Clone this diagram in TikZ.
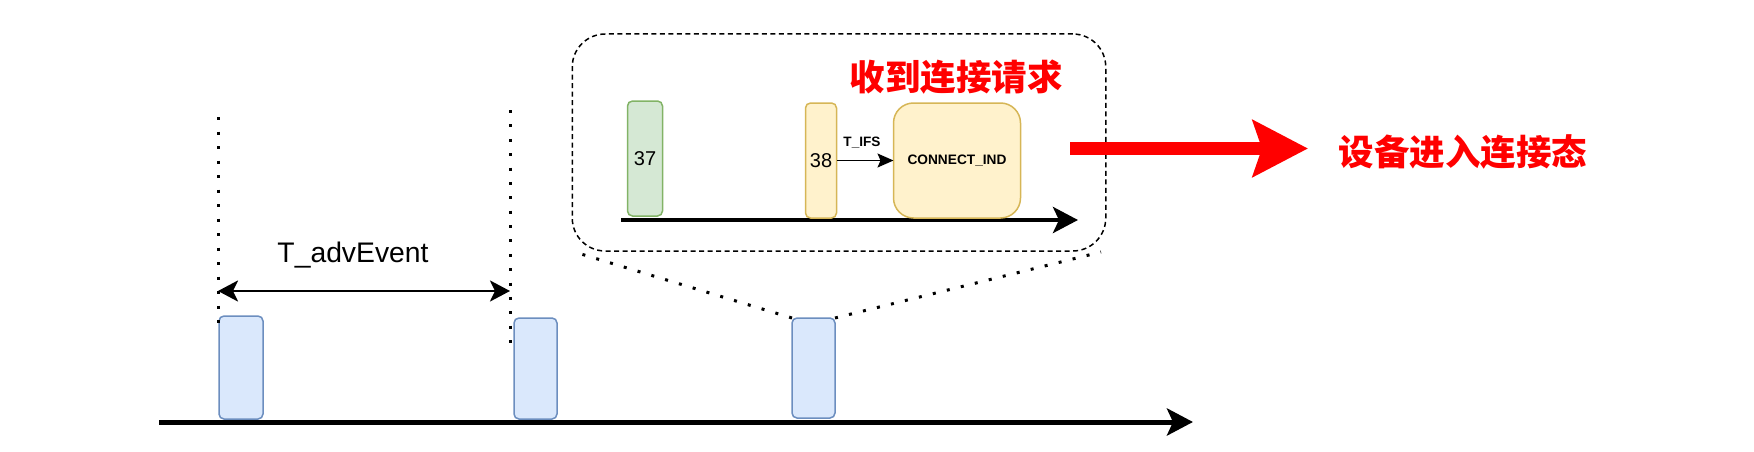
\documentclass[tikz,border=0pt]{standalone}
\usepackage{fontspec}
\setmainfont{Liberation Sans}
\newfontfamily\cjk{Noto Sans CJK SC}
\usetikzlibrary{arrows.meta}
\definecolor{bluefill}{HTML}{DAE8FC}
\definecolor{bluedraw}{HTML}{6C8EBF}
\definecolor{greenfill}{HTML}{D5E8D4}
\definecolor{greendraw}{HTML}{82B366}
\definecolor{yelfill}{HTML}{FFF2CC}
\definecolor{yeldraw}{HTML}{D6B656}
\definecolor{myred}{HTML}{FF0000}
\tikzset{
  pkt/.style={draw, line width=1.5pt, rounded corners=5pt, inner sep=0pt, outer sep=0pt},
  bluepkt/.style={pkt, fill=bluefill, draw=bluedraw},
  greenpkt/.style={pkt, fill=greenfill, draw=greendraw},
  yelpkt/.style={pkt, fill=yelfill, draw=yeldraw},
  axisline/.style={line width=5pt, -{Stealth[length=26pt, width=27pt, inset=6pt]}},
  dotline/.style={line width=3pt, dash pattern=on 3pt off 11.4pt},
  lbl/.style={inner sep=0pt, outer sep=0pt},
  redtxt/.style={lbl, text=myred, font=\cjk\bfseries\fontsize{35.5}{40}\selectfont},
}
\begin{document}
\begin{tikzpicture}[x=1pt,y=-1pt]
\useasboundingbox (0,0) rectangle (1754,452);

% dashed zoom box
\node[draw, dashed, dash pattern=on 5pt off 3.5pt, line width=1.5pt, rounded corners=33pt,
      minimum width=533.5pt, minimum height=217pt, inner sep=0pt] (zoombox) at (839,142.5) {};

% main axis
\coordinate (ax0) at (159,422);
\coordinate (ax1) at (1193,422);
\draw[axisline] (ax0) -- (ax1);

% blue packets
\node[bluepkt, minimum width=44pt, minimum height=103pt] (b1) at (241,367.5) {};
\node[bluepkt, minimum width=43pt, minimum height=101pt] (b2) at (535.5,368.5) {};
\node[bluepkt, minimum width=43pt, minimum height=100pt] (b3) at (813.5,368) {};

% dotted vertical lines
\coordinate (d1a) at (218,117);
\coordinate (d1b) at (218,323);
\coordinate (d2a) at (510,110);
\coordinate (d2b) at (510,343);
\draw[dotline, dash pattern=on 3pt off 11.5pt] (d1a) -- (d1b);
\draw[dotline, dash pattern=on 3pt off 11.375pt] (d2a) -- (d2b);

% T_advEvent interval
\coordinate (t0) at (218,291);
\coordinate (t1) at (510,291);
\draw[line width=2.7pt, {Stealth[length=20pt, width=21pt, inset=5pt]}-{Stealth[length=20pt, width=21pt, inset=5pt]}] (t0) -- (t1);
\node[lbl, font=\fontsize{28.3}{32}\selectfont] (tadv) at (353,255) {T\_advEvent};

% zoom connectors
\coordinate (zl) at (581,254);
\coordinate (zr) at (1101,252);
\draw[dotline] (b3.north west) -- (zl);
\draw[dotline] (b3.north east) -- (zr);

% inner axis
\coordinate (ia0) at (621,220);
\coordinate (ia1) at (1078,220);
\draw[line width=4.5pt, -{Stealth[length=25pt, width=26pt, inset=6pt]}] (ia0) -- (ia1);

% inner packets
\node[greenpkt, minimum width=35pt, minimum height=115pt] (g37) at (645,158.5) {};
\node[lbl, font=\fontsize{20}{24}\selectfont] at (g37.center) {37};
\node[yelpkt, minimum width=31pt, minimum height=115pt] (y38) at (821,160.5) {};
\node[lbl, font=\fontsize{20}{24}\selectfont] at (y38.center) {38};
\node[yelpkt, rounded corners=20pt, minimum width=127pt, minimum height=115pt] (ci) at (957,160.5) {};
\node[lbl, font=\bfseries\fontsize{13.7}{16}\selectfont] at (ci.center) {CONNECT\_IND};

% T_IFS arrow
\draw[line width=1.5pt, -{Stealth[length=16pt, width=14pt, inset=3pt]}] (y38.east) -- (ci.west);
\node[lbl, font=\bfseries\fontsize{13.6}{16}\selectfont] (tifs) at (862,143) {T\_IFS};

% red texts and arrow
\node[redtxt] (req) at (956,77) {收到连接请求};
\coordinate (ra0) at (1070,148.5);
\coordinate (ra1) at (1308,148.5);
\draw[myred, line width=13pt, -{Stealth[length=55pt, width=56pt, inset=9pt]}] (ra0) -- (ra1);
\node[redtxt] (conn) at (1463,152) {设备进入连接态};
\end{tikzpicture}
\end{document}
